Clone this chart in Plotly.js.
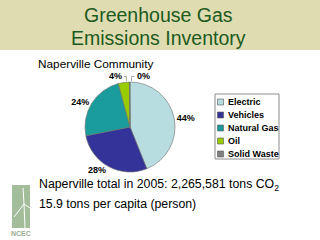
<!DOCTYPE html>
<html><head><meta charset="utf-8">
<script src="https://cdn.plot.ly/plotly-3.0.1.min.js"></script>
<style>html,body{margin:0;padding:0;background:#fff;}#c{width:320px;height:240px;}</style>
</head><body><div id="c"></div>
<script>
// Data
var categories = ['Electric', 'Vehicles', 'Natural Gas', 'Oil', 'Solid Waste'];
var shares = [44, 28, 24, 4, 0.2];          // percent of community emissions
var sliceColors = ['#b7dde0', '#333399', '#1a9c9c', '#99cc00', '#808080'];
var titleLines = ['Greenhouse Gas', 'Emissions Inventory'];
var subtitle = 'Naperville Community';
var totalYear = 2005;
var totalTons = '2,265,581';
var perCapita = 15.9;

var W = 320, H = 240;
function px(x){ return x / W; }
function py(y){ return 1 - y / H; }
var FONT = 'Arial, "Liberation Sans", sans-serif';
function pct(v){ return Math.round(v) + '%'; }

var trace = {
  type: 'pie',
  labels: categories,
  values: shares,
  sort: false,
  direction: 'clockwise',
  rotation: 0,
  marker: {colors: sliceColors, line: {color: '#6d6d6d', width: 0.6}},
  texttemplate: '%{value:.0f}%',
  textposition: ['outside', 'outside', 'outside', 'none', 'none'],
  outsidetextfont: {family: FONT, size: 9, color: '#000', weight: 'bold'},
  hoverinfo: 'none',
  showlegend: false,
  domain: {x: [px(85), px(175)], y: [py(172), py(82)]}
};

var shapes = [
  {type: 'rect', xref: 'paper', yref: 'paper', x0: 0, x1: 1, y0: py(50), y1: 1,
   fillcolor: '#dfdcb2', line: {width: 0}, layer: 'below'},
  // logo
  {type: 'rect', xref: 'paper', yref: 'paper', x0: px(12), x1: px(30), y0: py(228), y1: py(185),
   fillcolor: '#a3bd9b', line: {width: 0}, layer: 'below'},
  {type: 'line', xref: 'paper', yref: 'paper', x0: px(25), x1: px(24), y0: py(228), y1: py(204),
   line: {color: '#ffffff', width: 1}},
  {type: 'line', xref: 'paper', yref: 'paper', x0: px(24), x1: px(14), y0: py(204), y1: py(217),
   line: {color: '#ffffff', width: 1}},
  {type: 'line', xref: 'paper', yref: 'paper', x0: px(24), x1: px(23), y0: py(204), y1: py(188),
   line: {color: '#ffffff', width: 1}},
  {type: 'line', xref: 'paper', yref: 'paper', x0: px(24), x1: px(30), y0: py(204), y1: py(208),
   line: {color: '#ffffff', width: 1}},
  // legend box
  {type: 'rect', xref: 'paper', yref: 'paper', x0: px(215), x1: px(279), y0: py(159), y1: py(94),
   fillcolor: '#ffffff', line: {color: '#8c8c8c', width: 1}},
  // leader lines for the two small slices
  {type: 'path', xref: 'paper', yref: 'paper',
   path: 'M ' + px(124) + ' ' + py(76.5) + ' L ' + px(126.5) + ' ' + py(76.5) + ' L ' + px(126.5) + ' ' + py(81),
   line: {color: '#888', width: 0.7}},
  {type: 'path', xref: 'paper', yref: 'paper',
   path: 'M ' + px(134.5) + ' ' + py(76.5) + ' L ' + px(131.5) + ' ' + py(76.5) + ' L ' + px(131.5) + ' ' + py(81),
   line: {color: '#888', width: 0.7}}
];

var annotations = [
  {text: subtitle, xref: 'paper', yref: 'paper', x: px(36), y: py(64), xanchor: 'left', yanchor: 'middle',
   showarrow: false, font: {family: FONT, size: 11.8, color: '#000'}},
  {text: 'Naperville total in ' + totalYear + ': ' + totalTons + ' tons CO<sub>2</sub>', xref: 'paper', yref: 'paper',
   x: px(37), y: py(185), xanchor: 'left', yanchor: 'middle', showarrow: false,
   font: {family: FONT, size: 12.3, color: '#000'}},
  {text: perCapita + ' tons per capita (person)', xref: 'paper', yref: 'paper',
   x: px(37), y: py(204), xanchor: 'left', yanchor: 'middle', showarrow: false,
   font: {family: FONT, size: 12.3, color: '#000'}},
  {text: 'NCEC', xref: 'paper', yref: 'paper', x: px(21), y: py(233), xanchor: 'center', yanchor: 'middle',
   showarrow: false, font: {family: FONT, size: 7, color: '#9aae96', weight: 'bold'}},
  {text: pct(shares[3]), xref: 'paper', yref: 'paper', x: px(123.5), y: py(76), xanchor: 'right', yanchor: 'middle',
   showarrow: false, font: {family: FONT, size: 9, color: '#000', weight: 'bold'}},
  {text: pct(shares[4]), xref: 'paper', yref: 'paper', x: px(135), y: py(76), xanchor: 'left', yanchor: 'middle',
   showarrow: false, font: {family: FONT, size: 9, color: '#000', weight: 'bold'}}
];
titleLines.forEach(function(t, i){
  annotations.push({text: t, xref: 'paper', yref: 'paper', x: px(158), y: py(15 + i * 23),
    xanchor: 'center', yanchor: 'middle', showarrow: false,
    font: {family: FONT, size: 19.5, color: '#1d5a1d'}});
});
// compact legend built from categories and colors
categories.forEach(function(c, i){
  var yc = 102 + i * 13;
  shapes.push({type: 'rect', xref: 'paper', yref: 'paper', x0: px(217.5), x1: px(223.5),
    y0: py(yc + 3), y1: py(yc - 3), fillcolor: sliceColors[i], line: {color: '#555', width: 0.6}});
  annotations.push({text: c, xref: 'paper', yref: 'paper', x: px(225.5), y: py(yc),
    xanchor: 'left', yanchor: 'middle', showarrow: false,
    font: {family: FONT, size: 9, color: '#000', weight: 'bold'}});
});

var layout = {
  width: W, height: H,
  margin: {l: 0, r: 0, t: 0, b: 0},
  paper_bgcolor: '#ffffff',
  showlegend: false,
  shapes: shapes,
  annotations: annotations
};
Plotly.newPlot('c', [trace], layout, {staticPlot: true, displayModeBar: false});
</script>
</body></html>
